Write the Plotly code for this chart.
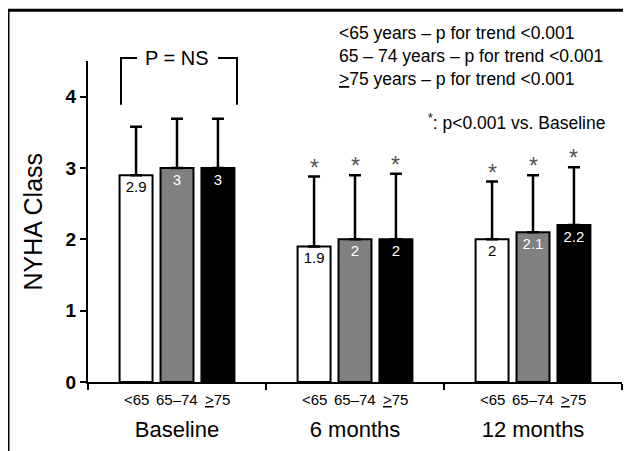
import plotly.graph_objects as go

groups = ["Baseline", "6 months", "12 months"]
age_labels = ["&lt;65", "65–74", "<u>&gt;</u>75"]
series_names = ["<65", "65-74", ">=75"]
means = {
    "<65": [2.9, 1.9, 2.0],
    "65-74": [3.0, 2.0, 2.1],
    ">=75": [3.0, 2.0, 2.2],
}
sd_upper = {
    "<65": [0.68, 0.98, 0.81],
    "65-74": [0.69, 0.90, 0.80],
    ">=75": [0.69, 0.92, 0.81],
}
significant = [False, True, True]  # * p<0.001 vs. Baseline
fills = {"<65": "#ffffff", "65-74": "#808080", ">=75": "#000000"}
text_colors = {"<65": "#000000", "65-74": "#ffffff", ">=75": "#ffffff"}
trend_notes = [
    "&lt;65 years – p for trend &lt;0.001",
    "65 – 74 years – p for trend &lt;0.001",
    "<u>&gt;</u>75 years – p for trend &lt;0.001",
]

FONT = "Arial, Liberation Sans, sans-serif"
fig = go.Figure()
for s in series_names:
    fig.add_trace(go.Bar(
        x=groups, y=means[s], name=s,
        marker=dict(color=fills[s], line=dict(color="#000000", width=2)),
        error_y=dict(type="data", array=sd_upper[s], arrayminus=[0]*3,
                     symmetric=False, color="#000000", thickness=2.5, width=6),
        text=[f"{v:g}" for v in means[s]], textposition="inside",
        insidetextanchor="end", textangle=0, constraintext="none",
        textfont=dict(color=text_colors[s], size=15, family=FONT),
        showlegend=False,
    ))

slot = 0.23
offsets = [-slot, 0, slot]
annotations = []
for gi, g in enumerate(groups):
    for si, s in enumerate(series_names):
        annotations.append(dict(x=gi + offsets[si], y=-0.056, xref="x", yref="paper",
                                text=age_labels[si], showarrow=False, yanchor="middle",
                                font=dict(size=15, family=FONT, color="#000")))
        if significant[gi]:
            annotations.append(dict(x=gi + offsets[si], y=means[s][gi] + sd_upper[s][gi],
                                    xref="x", yref="y", text="*", showarrow=False,
                                    yanchor="bottom", yshift=-6,
                                    font=dict(size=23, family=FONT, color="#555")))

for i, t in enumerate(trend_notes):
    annotations.append(dict(x=0.466, y=1.087 - i * 0.071, xref="paper", yref="paper",
                            text=t, showarrow=False, xanchor="left", yanchor="middle",
                            font=dict(size=17.5, family=FONT, color="#000")))
annotations.append(dict(x=0.972, y=0.811, xref="paper", yref="paper",
                        text="<sup>*</sup>: p&lt;0.001 vs. Baseline", showarrow=False,
                        xanchor="right", yanchor="middle",
                        font=dict(size=17.5, family=FONT, color="#000")))
annotations.append(dict(x=0, y=1.009, xref="x", yref="paper", text="P = NS",
                        showarrow=False, yanchor="middle",
                        font=dict(size=20, family=FONT, color="#000")))
annotations.append(dict(x=-0.103, y=0.5, xref="paper", yref="paper", text="NYHA Class",
                        showarrow=False, textangle=-90, xanchor="center", yanchor="middle",
                        font=dict(size=25, family=FONT, color="#000")))

shapes = [
    dict(type="line", xref="paper", yref="paper", x0=-0.1498, x1=1.1, y0=1.158, y1=1.158,
         line=dict(color="#000", width=3)),
    dict(type="line", xref="paper", yref="paper", x0=-0.1498, x1=-0.1498, y0=1.158, y1=-0.3,
         line=dict(color="#000", width=3)),
    # P = NS bracket
    dict(type="path", xref="paper", yref="paper",
         path="M 0.0618 0.864 L 0.0618 1.009 L 0.0918 1.009",
         line=dict(color="#000", width=2)),
    dict(type="path", xref="paper", yref="paper",
         path="M 0.2434 1.009 L 0.279 1.009 L 0.279 0.864",
         line=dict(color="#000", width=2)),
]

# The page has an 8px body margin, so the figure is drawn 8px in from the window edge.
fig.update_layout(
    width=623, height=443,
    margin=dict(l=80, r=9, t=53, b=67),
    paper_bgcolor="#ffffff", plot_bgcolor="#ffffff",
    barmode="group", bargap=0.31, bargroupgap=0.195,
    font=dict(family=FONT, color="#000"),
    annotations=annotations, shapes=shapes,
    xaxis=dict(showline=True, linecolor="#000", linewidth=2, ticks="outside",
               tickson="boundaries", ticklen=6, tickwidth=2, tickcolor="#000",
               tickfont=dict(size=22, family=FONT), ticklabelstandoff=27,
               showgrid=False, zeroline=False),
    yaxis=dict(range=[0, 4.5], tickvals=[0, 1, 2, 3, 4], showline=True, linecolor="#000",
               linewidth=2, ticks="outside", ticklen=6, tickwidth=2, tickcolor="#000",
               tickfont=dict(size=19, family=FONT, weight="bold"),
               showgrid=False, zeroline=False),
)

fig.write_html("out.html")
